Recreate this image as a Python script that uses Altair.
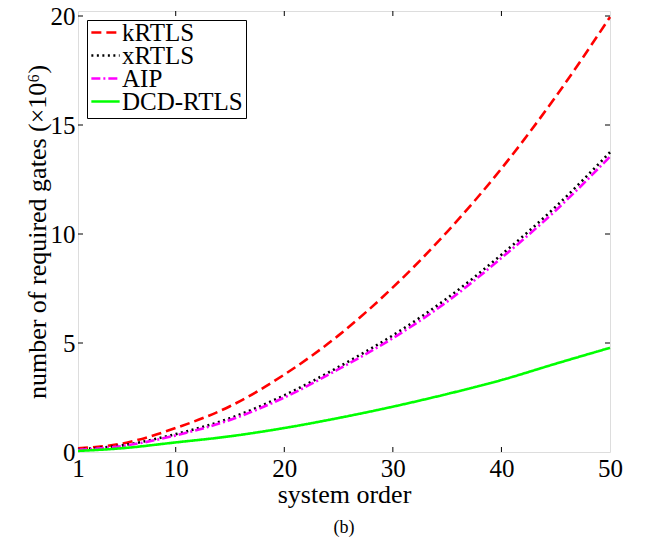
import altair as alt
import pandas as pd

order = [1, 5, 10, 15, 20, 25, 30, 35, 40, 45, 50]
krtls = [0.17, 0.38, 1.10, 2.10, 3.55, 5.35, 7.55, 10.10, 13.00, 16.30, 19.95]
xrtls = [0.12, 0.30, 0.82, 1.55, 2.60, 3.90, 5.35, 7.05, 9.05, 11.25, 13.75]
aip = [0.10, 0.27, 0.76, 1.47, 2.50, 3.80, 5.22, 6.90, 8.90, 11.08, 13.55]
dcd = [0.05, 0.17, 0.44, 0.72, 1.10, 1.56, 2.08, 2.66, 3.30, 4.05, 4.78]

series_names = ["kRTLS", "xRTLS", "AIP", "DCD-RTLS"]
series_colors = ["#ff0000", "#000000", "#ff00ff", "#00ff00"]
series_dash = [[10, 5], [2, 3.5], [9, 3, 2, 3], [1, 0]]

x_ticks = [1, 10, 20, 30, 40, 50]
y_ticks = [0, 5, 10, 15, 20]

rows = []
for name, vals in zip(series_names, [krtls, xrtls, aip, dcd]):
    for o, v in zip(order, vals):
        rows.append({"order": o, "gates": v, "series": name})
df = pd.DataFrame(rows)

W, H = 532, 441
FONT = "Liberation Serif"
FS_LAB = 25
FS_TTL = 26
FS_LEG = 25

xscale = alt.Scale(domain=[1, 50], nice=False, zero=False)
yscale = alt.Scale(domain=[0, 20.23], nice=False)

xaxis = alt.Axis(values=x_ticks, title="system order", grid=False,
                 ticks=False, domain=False, labelPadding=4, labelFlush=False,
                 labelFontSize=FS_LAB, titleFontSize=FS_TTL, titlePadding=0,
                 labelFont=FONT, titleFont=FONT, titleFontWeight="normal",
                 labelColor="black", titleColor="black")
yaxis = alt.Axis(values=y_ticks, title="number of required gates (×10⁶)",
                 grid=False, ticks=False, domain=False, labelPadding=3,
                 labelFontSize=FS_LAB, titleFontSize=FS_TTL, titlePadding=0,
                 labelFont=FONT, titleFont=FONT, titleFontWeight="normal",
                 labelColor="black", titleColor="black")

lines = alt.Chart(df).mark_line(strokeWidth=2.6, interpolate="monotone").encode(
    x=alt.X("order:Q", scale=xscale, axis=xaxis),
    y=alt.Y("gates:Q", scale=yscale, axis=yaxis),
    color=alt.Color("series:N",
                    scale=alt.Scale(domain=series_names, range=series_colors),
                    legend=alt.Legend(title=None, orient="top-left", offset=9,
                                      symbolType="stroke", symbolSize=800,
                                      symbolStrokeWidth=2.6, labelFont=FONT,
                                      labelFontSize=FS_LEG, labelColor="black",
                                      labelLimit=300, rowPadding=-6, clipHeight=19,
                                      strokeColor="black", fillColor="white",
                                      padding=3, labelOffset=1)),
    strokeDash=alt.StrokeDash("series:N",
                              scale=alt.Scale(domain=series_names, range=series_dash),
                              legend=None),
)

xt = pd.DataFrame({"order": x_ticks[1:-1]})
yt = pd.DataFrame({"gates": y_ticks[1:]})

tick_style = dict(color="black", strokeWidth=1)
bottom_ticks = alt.Chart(xt).mark_rule(**tick_style).encode(
    x=alt.X("order:Q", scale=xscale), y=alt.value(H), y2=alt.value(H - 5))
top_ticks = alt.Chart(xt).mark_rule(**tick_style).encode(
    x=alt.X("order:Q", scale=xscale), y=alt.value(0), y2=alt.value(5))
left_ticks = alt.Chart(yt).mark_rule(**tick_style).encode(
    y=alt.Y("gates:Q", scale=yscale), x=alt.value(0), x2=alt.value(5))
right_ticks = alt.Chart(yt).mark_rule(**tick_style).encode(
    y=alt.Y("gates:Q", scale=yscale), x=alt.value(W), x2=alt.value(W - 5))

chart = alt.layer(lines, bottom_ticks, top_ticks, left_ticks, right_ticks).properties(
    width=W, height=H,
    padding={"left": 70, "top": 3, "right": 28, "bottom": 90},
    autosize=alt.AutoSizeParams(type="none"),
    title=alt.TitleParams("(b)", orient="bottom", font=FONT, fontSize=18,
                          fontWeight="normal", color="black", offset=12),
).configure_view(stroke="black", strokeWidth=1.6).configure(background="white")

chart.save("out.html", embed_options={"renderer": "svg", "actions": False})
